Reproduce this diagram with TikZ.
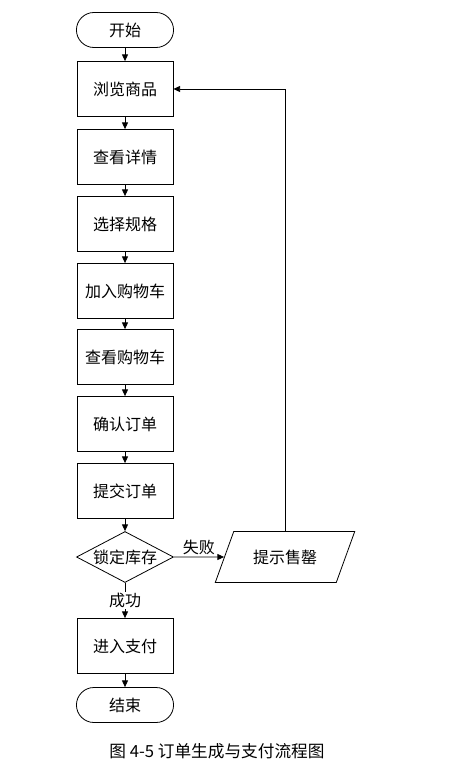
\documentclass[tikz,border=0pt]{standalone}
\usepackage{fontspec}
\setmainfont{Noto Sans CJK SC}
\usetikzlibrary{shapes,arrows.meta}

\begin{document}
\begin{tikzpicture}[x=0.75pt,y=-0.75pt,line width=0.6pt,
  >={Triangle[length=5pt,width=4.5pt]},
  every node/.style={font=\fontsize{12}{14}\selectfont},
  terminal/.style={draw,rounded rectangle,minimum width=79.5pt,minimum height=26.25pt},
  box/.style={draw,rectangle,minimum width=72pt,minimum height=41.25pt},
  decision/.style={draw,diamond,aspect=1.9,minimum width=72.75pt,minimum height=38.25pt,inner sep=0pt},
  io/.style={draw,trapezium,trapezium left angle=61,trapezium right angle=119,
    trapezium stretches=true,minimum width=105pt,minimum height=38.25pt}]
\useasboundingbox (0,0) rectangle (465,762);
% Main flow
\node[terminal] (start) at (125,30) {开始};
\node[box] (browse) at (125,89) {浏览商品};
\node[box] (detail) at (125,157) {查看详情};
\node[box] (spec) at (125,224) {选择规格};
\node[box] (addcart) at (125,291) {加入购物车};
\node[box] (viewcart) at (125,357) {查看购物车};
\node[box] (confirm) at (125,424) {确认订单};
\node[box] (submit) at (125,491) {提交订单};
\node[decision] (lock) at (125,557) {锁定库存};
\node[io] (soldout) at (285,557) {提示售罄};
\node[box] (pay) at (125,646) {进入支付};
\node[terminal] (finish) at (125,705) {结束};
% Arrows
\draw[->] (start.south) -- (browse.north);
\draw[->] (browse.south) -- (detail.north);
\draw[->] (detail.south) -- (spec.north);
\draw[->] (spec.south) -- (addcart.north);
\draw[->] (addcart.south) -- (viewcart.north);
\draw[->] (viewcart.south) -- (confirm.north);
\draw[->] (confirm.south) -- (submit.north);
\draw[->] (submit.south) -- (lock.north);
% Failure branch
\draw[->] (lock.east) -- node[above,inner sep=1pt] {失败} (soldout.west);
\draw[->] (soldout.north) |- (browse.east);
% Success branch
\draw[->] (lock.south) -- node[fill=white,inner sep=1pt] {成功} (pay.north);
\draw[->] (pay.south) -- (finish.north);
% Caption
\node[font=\fontsize{12.5}{15}\selectfont] (caption) at (217,751) {图 4-5 订单生成与支付流程图};
\end{tikzpicture}
\end{document}
